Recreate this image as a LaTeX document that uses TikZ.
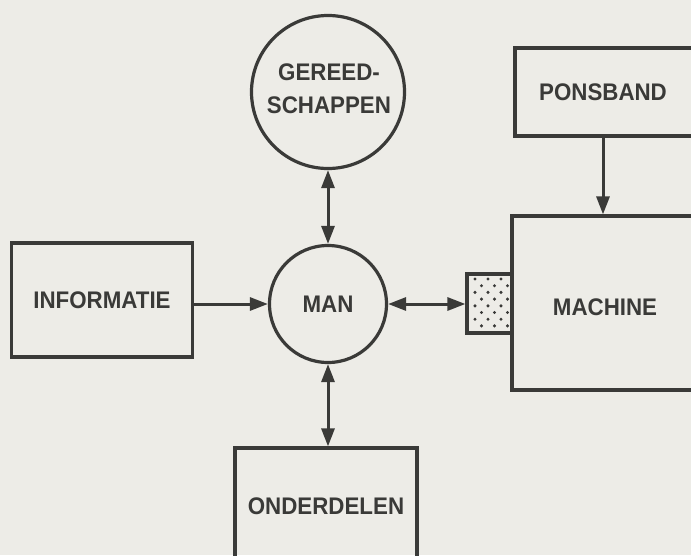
\documentclass[tikz,border=0pt]{standalone}
\usepackage{fontspec}
\setmainfont{Liberation Sans}
\usetikzlibrary{arrows.meta}
\definecolor{ink}{RGB}{58,58,56}
\definecolor{paper}{RGB}{237,236,231}
\newcommand{\lbltext}[1]{\scalebox{0.93}[1]{#1}}
\tikzset{
  box/.style={draw=ink, line width=3.2pt, rectangle, inner sep=0pt},
  rnd/.style={draw=ink, line width=3.2pt, circle, inner sep=0pt},
  lbl/.style={text=ink, font=\fontsize{24}{33}\selectfont\bfseries, inner sep=0pt, align=center},
  arr/.style={draw=ink, line width=3pt, -{Triangle[length=18pt,width=13pt]}},
  arrb/.style={draw=ink, line width=3pt, {Triangle[length=18pt,width=13pt]}-{Triangle[length=18pt,width=13pt]}},
}
\begin{document}
\begin{tikzpicture}[x=1pt,y=-1pt]
\fill[paper] (0,0) rectangle (691,555);
\useasboundingbox (0,0) rectangle (691,555);
\clip (0,0) rectangle (691,555);

% circles
\node[rnd, minimum size=153pt] (gs) at (328,92) {};
\node[lbl] (gsT) at (329,89) {\lbltext{GEREED-}\\\lbltext{SCHAPPEN}};
\node[rnd, minimum size=117pt, lbl, draw=ink] (man) at (328,304) {\lbltext{MAN}};

% boxes
\node[box, lbl, draw=ink, minimum width=181pt, minimum height=114pt] (info) at (102,300) {\lbltext{INFORMATIE}};
\node[box, minimum width=190pt, minimum height=88pt] (pons) at (610,92) {};
\node[lbl] (ponsT) at (603,92) {\lbltext{PONSBAND}};
\node[box, minimum width=45pt, minimum height=59pt] (dot) at (489.5,303.5) {};
\foreach \r in {0,...,7}{
  \pgfmathsetmacro{\yy}{279+\r*6.7}
  \pgfmathsetmacro{\xo}{mod(\r,2)==0 ? 475 : 481.5}
  \foreach \c in {0,1,2}{
    \fill[ink] (\xo+\c*13,\yy) circle (1.7pt);
  }
}
\node[box, minimum width=193pt, minimum height=174pt] (mach) at (608.5,303) {};
\node[lbl] (machT) at (605,307) {\lbltext{MACHINE}};
\node[box, lbl, draw=ink, minimum width=182pt, minimum height=117pt] (onder) at (326,506.5) {\lbltext{ONDERDELEN}};

% connectors
\draw[arrb] (gs.south) -- (man.north);
\draw[arrb] (man.south) -- (man.south |- onder.north);
\draw[arr] (info.east |- man.west) -- (man.west);
\draw[arrb] (man.east) -- (man.east -| dot.west);
\draw[arr] (ponsT |- pons.south) -- (ponsT |- mach.north);
\end{tikzpicture}
\end{document}
